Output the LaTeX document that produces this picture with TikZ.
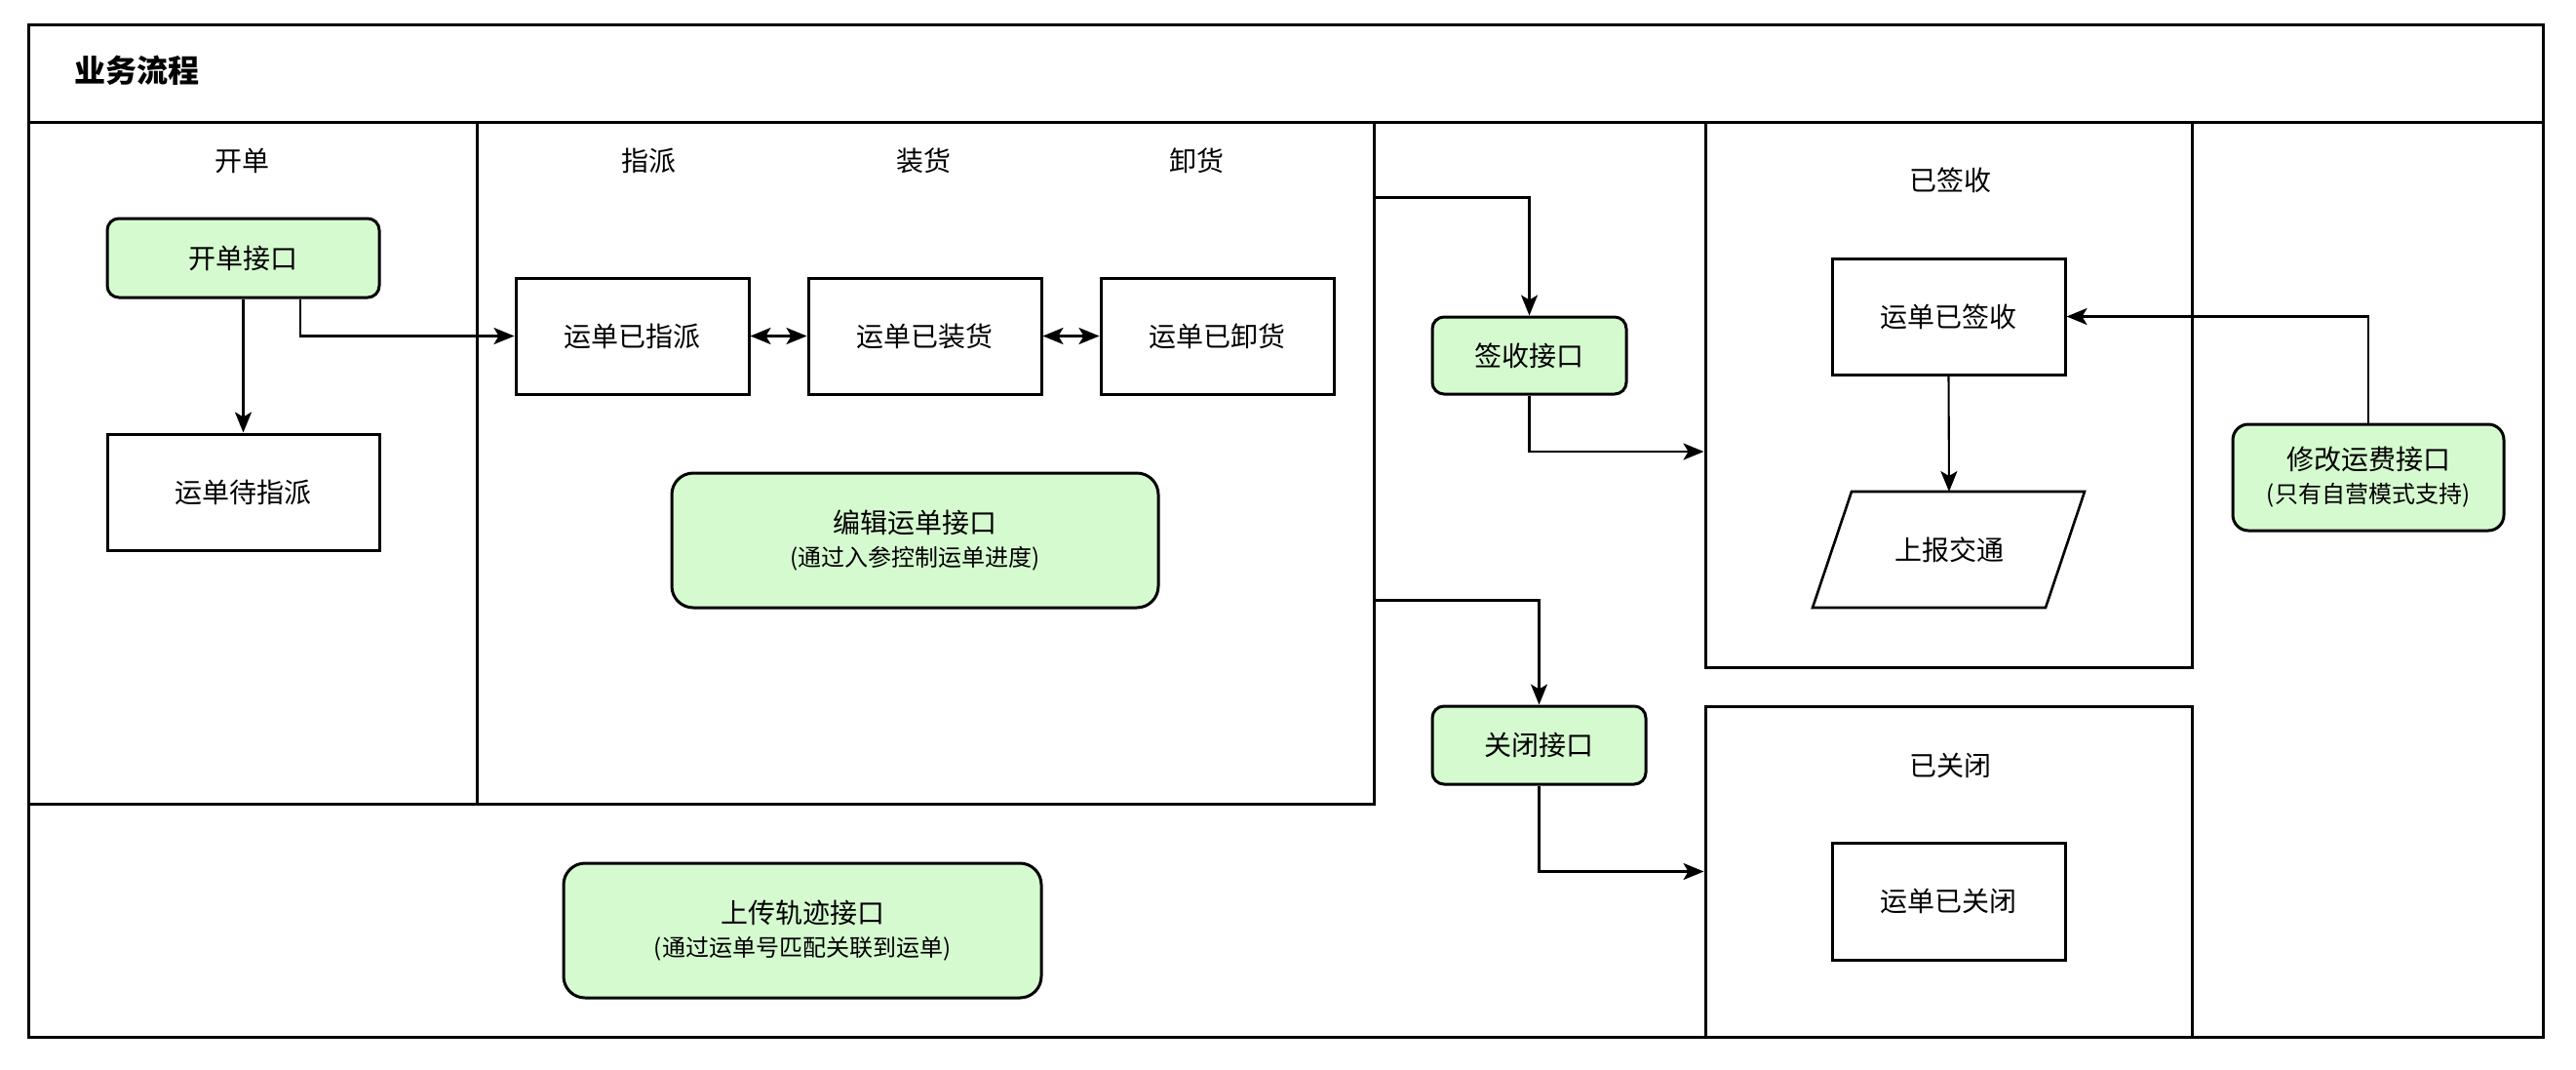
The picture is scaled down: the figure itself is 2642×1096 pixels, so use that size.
\documentclass[tikz,border=0pt]{standalone}
\usepackage{fontspec}
\setmainfont{Noto Sans CJK SC}
\usetikzlibrary{arrows.meta,calc}
\definecolor{gfill}{RGB}{214,250,208}
\tikzset{
  frame/.style={draw=black,line width=3pt},
  box/.style={draw=black,line width=3pt,fill=white,inner sep=0pt,font=\fontsize{28}{32}\selectfont},
  gbox/.style={draw=black,line width=3pt,fill=gfill,rounded corners=12pt,inner sep=0pt,align=center,font=\fontsize{28}{34}\selectfont},
  lbl/.style={inner sep=0pt,font=\fontsize{28}{32}\selectfont},
  conn/.style={line width=2.6pt,-{Stealth[length=21pt,width=17pt,inset=5pt]}},
  thinconn/.style={line width=2.1pt,-{Stealth[length=21pt,width=17pt,inset=5pt]}},
  dconn/.style={line width=2.6pt,{Stealth[length=21pt,width=17pt,inset=5pt]}-{Stealth[length=21pt,width=17pt,inset=5pt]}},
}
\newcommand{\subtxt}[1]{{\fontsize{24}{30}\selectfont #1}}
\begin{document}
\begin{tikzpicture}[x=1pt,y=-1pt]
\useasboundingbox (0,0) rectangle (2642,1096);
% outer frame
\node[frame,inner sep=0pt,minimum width=2579pt,minimum height=1038pt] (outer) at (1318.5,544) {};
\draw[frame] (outer.north west |- 0,125) -- (outer.north east |- 0,125);
\node[inner sep=0pt,anchor=west,font=\bfseries\fontsize{32}{38}\selectfont] (title) at (76,72) {业务流程};
% lanes
\node[frame,inner sep=0pt,minimum width=460pt,minimum height=699pt] (lane1) at (259,474.5) {};
\node[frame,inner sep=0pt,minimum width=920pt,minimum height=699pt] (lane2) at (949,474.5) {};
\node[frame,inner sep=0pt,minimum width=499pt,minimum height=559pt] (ysbox) at (1998.5,404.5) {};
\node[frame,inner sep=0pt,minimum width=499pt,minimum height=339pt] (ygbox) at (1998.5,893.5) {};
% lane labels
\node[lbl] (l1) at (248,165) {开单};
\node[lbl] (l2) at (665,165) {指派};
\node[lbl] (l3) at (947,165) {装货};
\node[lbl] (l4) at (1227,165) {卸货};
\node[lbl] (l5) at (2000,185) {已签收};
\node[lbl] (l6) at (2000,785) {已关闭};
% nodes
\node[gbox,minimum width=279pt,minimum height=81pt] (kd) at (249.5,264.5) {开单接口};
\node[box,minimum width=279pt,minimum height=119pt] (dzp) at (249.5,504.5) {运单待指派};
\node[box,minimum width=239pt,minimum height=119pt] (yzp) at (648.5,344.5) {运单已指派};
\node[box,minimum width=239pt,minimum height=119pt] (yzh) at (948.5,344.5) {运单已装货};
\node[box,minimum width=239pt,minimum height=119pt] (yxh) at (1248.5,344.5) {运单已卸货};
\node[gbox,rounded corners=22pt,minimum width=499pt,minimum height=138pt] (bj) at (938.5,554) {编辑运单接口\\\subtxt{(通过入参控制运单进度)}};
\node[gbox,minimum width=199pt,minimum height=79pt] (qs) at (1568.5,364.5) {签收接口};
\node[gbox,minimum width=219pt,minimum height=80pt] (gb) at (1578.5,764) {关闭接口};
\node[box,minimum width=239pt,minimum height=119pt] (ysq) at (1998.5,324.5) {运单已签收};
\node[box,minimum width=239pt,minimum height=120pt] (ygb) at (1998.5,924) {运单已关闭};
\node[gbox,rounded corners=16pt,minimum width=278pt,minimum height=109pt] (xg) at (2429,489.5) {修改运费接口\\\subtxt{(只有自营模式支持)}};
\node[gbox,rounded corners=22pt,minimum width=490pt,minimum height=138pt] (sc) at (823,954) {上传轨迹接口\\\subtxt{(通过运单号匹配关联到运单)}};
% parallelogram
\coordinate (sbtop) at (1999,504);
\draw[line width=2.6pt,fill=white] (1899,504) -- (2138,504) -- (2098,623) -- (1859,623) -- cycle;
\node[lbl] (sb) at (1999,563.5) {上报交通};
% connectors
\draw[conn] (kd.south) -- (dzp.north);
\draw[conn] ([xshift=58.5pt]kd.south) |- (yzp.west);
\draw[dconn] (yzp.east) -- (yzh.west);
\draw[dconn] (yzh.east) -- (yxh.west);
\draw[thinconn] ([yshift=-79pt]lane2.north east) -| (qs.north);
\draw[conn] (qs.south) |- ([yshift=-58.5pt]ysbox.west);
\draw[thinconn] ([yshift=-492pt]lane2.north east) -| (gb.north);
\draw[conn] (gb.south) |- (ygbox.west);
\draw[thinconn] (ysq.south) -- (sbtop);
\draw[conn] (xg.north) |- (ysq.east);
\end{tikzpicture}
\end{document}
